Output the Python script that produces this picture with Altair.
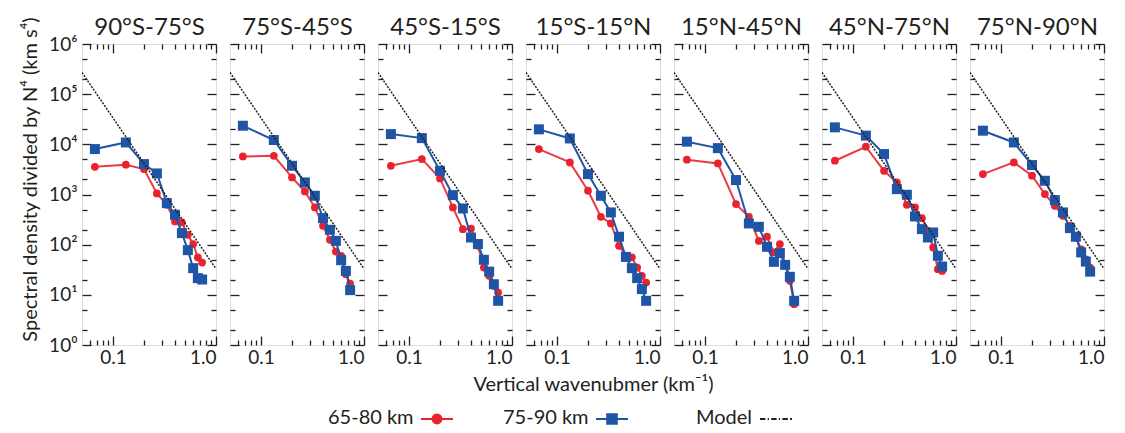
import altair as alt
import pandas as pd

FONT = "Lato"
INK = "#231F20"
RED = "#E8222E"
RED_LINE = "#EC3A44"
BLUE = "#1F55A6"

REGIONS = ["90°S-75°S", "75°S-45°S", "45°S-15°S", "15°S-15°N",
           "15°N-45°N", "45°N-75°N", "75°N-90°N"]
WAVENUMBER = [0.0667, 0.1333, 0.2, 0.2667, 0.3333, 0.4, 0.4667,
              0.5333, 0.6, 0.6667, 0.7333]

RED_90S_75S = [3570, 3920, 3210, 1050, 624, 290, 277, 157, 103, 55.6, 44]
RED_75S_45S = [5740, 5900, 2190, 1150, 552, 238, 125, 73, 60, 25.8, 16.8]
RED_45S_15S = [3740, 5080, 2090, 552, 204, 210, 95, 35, 24, 15, 11.1]
RED_15S_15N = [8050, 4360, 1190, 360, 265, 95, 60, 56, 35, 24, 17.6]
RED_15N_45N = [4930, 4170, 644, 360, 119, 144, 70, 103, 40, 19, 6.5]
RED_45N_75N = [4710, 8960, 2970, 1740, 624, 552, 338, 189, 88, 32.5, 30]
RED_75N_90N = [2550, 4360, 2370, 1020, 596, 377, 238, 139, 81, 51, 35]

BLUE_90S_75S = [8050, 10900, 4040, 2630, 673, 394, 170, 77.8, 34, 21.5, 20.2]
BLUE_75S_45S = [23500, 12200, 3740, 1740, 944, 338, 198, 119, 49, 30, 12.4]
BLUE_45S_15S = [16000, 13300, 2970, 973, 527, 139, 103, 50, 29, 16.3, 7.6]
BLUE_15S_15N = [19900, 13100, 2550, 944, 439, 144, 57, 34, 21.5, 13, 7.6]
BLUE_15N_45N = [11300, 8400, 1940, 265, 227, 90.6, 45.5, 67.8, 39.6, 22.9, 7.6]
BLUE_45N_75N = [21800, 14900, 6400, 1280, 988, 365, 204, 139, 175, 60, 36.7]
BLUE_75N_90N = [18700, 10900, 3860, 1880, 773, 439, 214, 144, 70, 46, 29]

RED_SERIES = [RED_90S_75S, RED_75S_45S, RED_45S_15S, RED_15S_15N,
              RED_15N_45N, RED_45N_75N, RED_75N_90N]
BLUE_SERIES = [BLUE_90S_75S, BLUE_75S_45S, BLUE_45S_15S, BLUE_15S_15N,
               BLUE_15N_45N, BLUE_45N_75N, BLUE_75N_90N]

MODEL_K = [0.05, 1.0]
MODEL_VALUE = [270000, 33]

X_MAJOR = [0.1, 1.0]
X_MINOR = [0.06, 0.07, 0.08, 0.09, 0.2, 0.3, 0.4, 0.5, 0.6, 0.7, 0.8, 0.9]
Y_MAJOR = [1, 10, 100, 1000, 10000, 100000, 1000000]
Y_MINOR = [2, 5, 20, 50, 200, 500, 2000, 5000, 20000, 50000, 200000, 500000]

LEGEND_LABELS = ["65-80 km", "75-90 km", "Model"]
LEGEND_PATHS = [
    "M-1,-0.44H1M-0.28,-0.44A0.28,0.28,0,1,0,0.28,-0.44A0.28,0.28,0,1,0,-0.28,-0.44Z",
    "M-1,-0.44H1M-0.3,-0.74H0.3V-0.14H-0.3Z",
    "M-1,-0.44H-0.66M-0.52,-0.44H-0.44M-0.3,-0.44H0.04M0.18,-0.44H0.26M0.4,-0.44H0.74M0.88,-0.44H1",
]
LEGEND_COLORS = [RED, BLUE, INK]
LEGEND_X = [246, 421, 614]
LEGEND_Y = 365

Y_TITLE = "Spectral density divided by N⁴ (km s⁴)"
X_TITLE = "Vertical wavenubmer (km⁻¹)"

XS = alt.Scale(type="log", domain=[0.05, 1.0], nice=False)
YS = alt.Scale(type="log", domain=[1, 1000000], nice=False)

W, H = 134, 301


def tick_axis(orient, values, size, title=None):
    if title is not None:
        kw = dict(title=title, titleFontSize=24, titleFont=FONT,
                  titleFontWeight="normal", titleColor=INK, titlePadding=4)
    else:
        kw = dict(title=None)
    return alt.Axis(orient=orient, values=values, labels=False, domain=False,
                    grid=False, ticks=True, tickSize=size,
                    offset=-size, tickColor=INK, tickWidth=1.3, **kw)


def legend_layer(j):
    field = f"entry{j}"
    df = pd.DataFrame({field: [LEGEND_LABELS[j]]})
    leg = alt.Legend(
        orient="none", legendX=LEGEND_X[j], legendY=LEGEND_Y,
        title=LEGEND_LABELS[j], titleOrient="left", titleFontSize=20,
        titleFont=FONT, titleFontWeight="normal", titleColor=INK,
        titleBaseline="middle", titleAnchor="middle", titlePadding=6,
        labelExpr="''", labelFontSize=1, labelOffset=0,
        symbolType=LEGEND_PATHS[j], symbolSize=1024, symbolStrokeWidth=2,
        symbolOpacity=1, symbolFillColor=LEGEND_COLORS[j],
        symbolStrokeColor=LEGEND_COLORS[j], padding=0,
    )
    sc = alt.Scale(domain=[LEGEND_LABELS[j]], range=[LEGEND_COLORS[j]])
    base = alt.Chart(df).transform_filter("false").mark_point(
        fill=LEGEND_COLORS[j], stroke=LEGEND_COLORS[j], strokeWidth=2)
    if j == 0:
        enc = {"fill": alt.Fill(f"{field}:N", legend=leg, scale=sc)}
    elif j == 1:
        enc = {"color": alt.Color(f"{field}:N", legend=leg, scale=sc)}
    else:
        enc = {"stroke": alt.Stroke(f"{field}:N", legend=leg, scale=sc)}
    return base.encode(**enc)


def panel(i):
    obs = pd.DataFrame({
        "k": WAVENUMBER * 2,
        "value": RED_SERIES[i] + BLUE_SERIES[i],
        "series": ["65-80 km"] * len(WAVENUMBER) + ["75-90 km"] * len(WAVENUMBER),
    })
    model = pd.DataFrame({"k": MODEL_K, "value": MODEL_VALUE})

    x_kw = dict(orient="bottom", values=X_MAJOR,
                labelExpr="datum.value >= 0.99 ? '1.0' : '0.1'",
                ticks=False, domain=False, grid=False,
                labelFontSize=19, labelPadding=3, labelFont=FONT,
                labelColor=INK, labelOverlap=False)
    if i == 3:
        x_lab = alt.Axis(title=X_TITLE, titleFontSize=20, titleFont=FONT,
                         titleFontWeight="normal", titleColor=INK,
                         titlePadding=7, **x_kw)
    else:
        x_lab = alt.Axis(title=None, **x_kw)
    if i == 0:
        y_lab = alt.Axis(orient="left", values=Y_MAJOR,
                         labelExpr="'10' + ['⁰','¹','²','³','⁴','⁵','⁶'][round(log(datum.value)/LN10)]",
                         ticks=False, domain=False, grid=False, title=Y_TITLE,
                         titleFontSize=20, titleFont=FONT, titleFontWeight="normal",
                         titleColor=INK, titlePadding=8, titleY=135,
                         labelFontSize=19, labelFont=FONT, labelColor=INK,
                         labelPadding=5, labelOverlap=False)
    else:
        y_lab = None

    red = alt.Chart(obs).transform_filter(alt.datum.series == "65-80 km").mark_line(
        color=RED_LINE, strokeWidth=2, clip=True,
        point=alt.OverlayMarkDef(filled=True, size=60, color=RED, shape="circle", opacity=1),
    ).encode(
        x=alt.X("k:Q", scale=XS, axis=x_lab),
        y=alt.Y("value:Q", scale=YS, axis=y_lab),
    )
    blue = alt.Chart(obs).transform_filter(alt.datum.series == "75-90 km").mark_line(
        color=BLUE, strokeWidth=2, clip=True,
        point=alt.OverlayMarkDef(filled=True, size=100, color=BLUE, shape="square", opacity=1),
    ).encode(
        x=alt.X("k:Q", scale=XS, axis=None),
        y=alt.Y("value:Q", scale=YS, axis=None),
    )
    mod = alt.Chart(model).mark_line(color="#222222", strokeWidth=1.5,
                                     strokeDash=[2, 1.3], clip=True).encode(
        x=alt.X("k:Q", scale=XS, axis=None),
        y=alt.Y("value:Q", scale=YS, axis=None),
    )
    layers = [red, blue, mod]
    for xo, yo in (("bottom", "left"), ("top", "right")):
        for major in (True, False):
            size = 9 if major else 5
            xtitle = REGIONS[i] if (xo == "top" and major) else None
            layers.append(
                alt.Chart(obs).mark_point(opacity=0).encode(
                    x=alt.X("k:Q", scale=XS,
                            axis=tick_axis(xo, X_MAJOR if major else X_MINOR, size, xtitle)),
                    y=alt.Y("value:Q", scale=YS,
                            axis=tick_axis(yo, Y_MAJOR if major else Y_MINOR, size)),
                )
            )
    if i == 0:
        layers += [legend_layer(j) for j in range(3)]
    return alt.layer(*layers).resolve_axis(x="independent", y="independent").properties(
        width=W, height=H,
    )


chart = alt.hconcat(*[panel(i) for i in range(len(REGIONS))], spacing=14,
                    bounds="flush").properties(
    padding={"left": 12, "top": 6, "right": 5, "bottom": 5}
).configure_view(
    stroke=INK, strokeWidth=1.5
).configure(
    font=FONT
)

chart.save("out.html", embed_options={"renderer": "svg", "actions": False})
